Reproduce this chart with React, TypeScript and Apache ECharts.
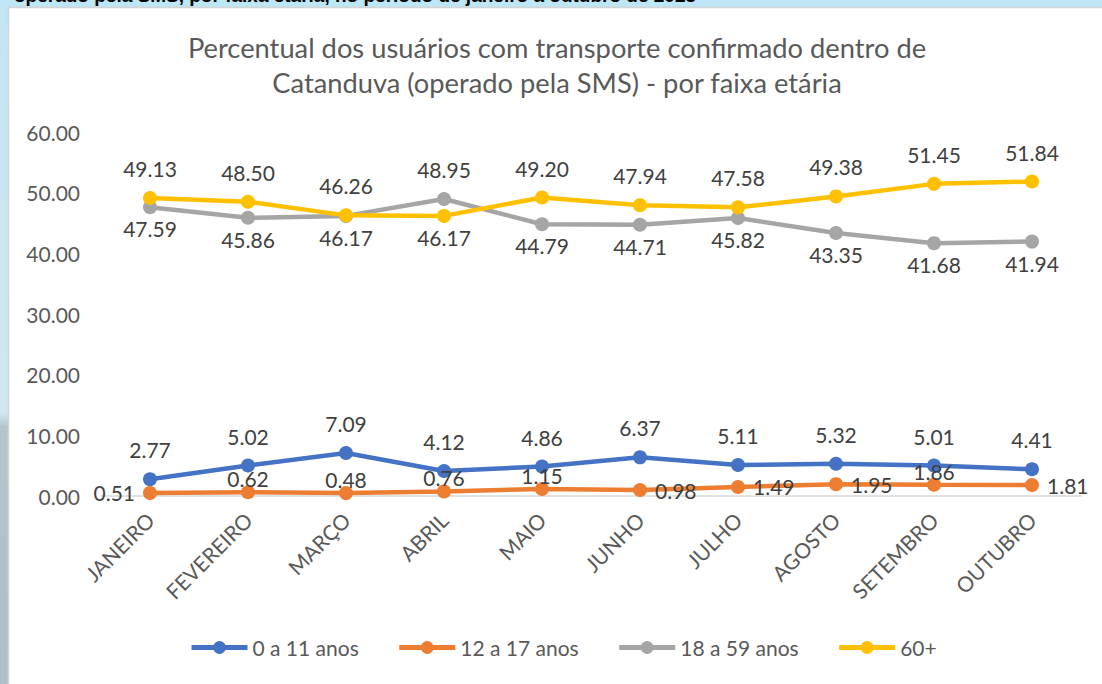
import React, { useEffect, useRef } from "react";
import * as echarts from "echarts";

const months = ["JANEIRO", "FEVEREIRO", "MARÇO", "ABRIL", "MAIO", "JUNHO", "JULHO", "AGOSTO", "SETEMBRO", "OUTUBRO"];
const seriesNames = ["0 a 11 anos", "12 a 17 anos", "18 a 59 anos", "60+"];
const age0to11 = [2.77, 5.02, 7.09, 4.12, 4.86, 6.37, 5.11, 5.32, 5.01, 4.41];
const age12to17 = [0.51, 0.62, 0.48, 0.76, 1.15, 0.98, 1.49, 1.95, 1.86, 1.81];
const age18to59 = [47.59, 45.86, 46.17, 48.95, 44.79, 44.71, 45.82, 43.35, 41.68, 41.94];
const age60plus = [49.13, 48.5, 46.26, 46.17, 49.2, 47.94, 47.58, 49.38, 51.45, 51.84];
const yTicks = { min: 0, max: 60, interval: 10 };

const titleLines = [
  "Percentual dos usuários com transporte confirmado dentro de",
  "Catanduva (operado pela SMS) - por faixa etária",
];
const headerText = "operado pela SMS, por faixa etária, no período de janeiro a outubro de 2023";

// label placement styles (not data)
const orangeLabelPos = ["left", "top", "top", "top", "top", "right", "right", "right", "top", "right"];
const grayLabelPos = ["bottom", "bottom", "bottom", "top", "bottom", "bottom", "bottom", "bottom", "bottom", "bottom"];
const yellowLabelPos = ["top", "top", "top", "bottom", "top", "top", "top", "top", "top", "top"];

const FONT = "Lato, 'Open Sans', sans-serif";
const LABEL_COLOR = "#404040";
const AXIS_COLOR = "#595959";

function distFor(pos: string, base: { top: number; bottom: number; side: number }) {
  if (pos === "top") return base.top;
  if (pos === "bottom") return base.bottom;
  return base.side;
}

function buildData(values: number[], positions: string[] | null, base: { top: number; bottom: number; side: number }, def: string) {
  return values.map((v, i) => {
    const pos = positions ? positions[i] : def;
    return {
      value: v,
      label: { position: pos, distance: distFor(pos, base) },
    };
  });
}

export default function App() {
  const ref = useRef<HTMLDivElement>(null);
  useEffect(() => {
    if (!ref.current) return;
    const chart = echarts.init(ref.current, undefined, { renderer: "svg" });
    const labelBase = {
      show: true,
      color: LABEL_COLOR,
      fontSize: 21,
      fontFamily: FONT,
      formatter: (p: any) => Number(p.value).toFixed(2),
    };
    const mkSeries = (name: string, color: string, data: any[]) => ({
      name,
      type: "line",
      data,
      symbol: "circle",
      symbolSize: 14,
      lineStyle: { color, width: 4.5 },
      itemStyle: { color },
      label: labelBase,
      emphasis: { disabled: true },
    });
    chart.setOption({
      animation: false,
      backgroundColor: "#ffffff",
      textStyle: { fontFamily: FONT },
      graphic: [
        { type: "rect", z: -10, shape: { x: 0, y: 0, width: 1102, height: 7 }, style: { fill: "#bde6f6" } },
        {
          type: "rect",
          z: -10,
          shape: { x: 0, y: 7, width: 8, height: 677 },
          style: {
            fill: new echarts.graphic.LinearGradient(0, 0, 0, 1, [
              { offset: 0, color: "#c3e6f4" },
              { offset: 0.6, color: "#cfe6ef" },
              { offset: 0.62, color: "#b3c6cb" },
              { offset: 1, color: "#adc1c4" },
            ]),
          },
        },
        { type: "line", z: -5, shape: { x1: 8, y1: 7.5, x2: 1102, y2: 7.5 }, style: { stroke: "#d4d4d4", lineWidth: 1.5 } },
        { type: "line", z: -5, shape: { x1: 8.5, y1: 7, x2: 8.5, y2: 684 }, style: { stroke: "#d4d4d4", lineWidth: 1.5 } },
        {
          type: "text",
          z: -8,
          x: 14,
          y: -14,
          style: { text: headerText, fill: "#000000", font: "bold 19px 'Liberation Sans', sans-serif" },
        },
        {
          type: "text",
          x: 557,
          y: 47,
          style: { text: titleLines[0], fill: AXIS_COLOR, font: `27.3px ${FONT}`, textAlign: "center", textVerticalAlign: "middle" },
        },
        {
          type: "text",
          x: 557,
          y: 82,
          style: { text: titleLines[1], fill: AXIS_COLOR, font: `27.3px ${FONT}`, textAlign: "center", textVerticalAlign: "middle" },
        },
      ],
      legend: {
        bottom: 21,
        left: 184,
        itemWidth: 56,
        itemHeight: 16,
        itemGap: 38,
        lineStyle: { width: 5 },
        textStyle: { color: AXIS_COLOR, fontSize: 21, fontFamily: FONT },
        data: seriesNames,
      },
      grid: { left: 101, right: 21, top: 132, bottom: 188, containLabel: false },
      xAxis: {
        type: "category",
        data: months,
        boundaryGap: true,
        axisLine: { lineStyle: { color: "#d9d9d9", width: 1.5 } },
        axisTick: { show: false },
        axisLabel: { rotate: 45, color: AXIS_COLOR, fontSize: 21, fontFamily: FONT, margin: 20, interval: 0 },
      },
      yAxis: {
        type: "value",
        min: yTicks.min,
        max: yTicks.max,
        interval: yTicks.interval,
        axisLine: { show: false },
        axisTick: { show: false },
        splitLine: { show: false },
        axisLabel: {
          color: AXIS_COLOR,
          fontSize: 21,
          fontFamily: FONT,
          margin: 21,
          formatter: (v: number) => v.toFixed(2),
        },
      },
      series: [
        mkSeries(seriesNames[0], "#4472C4", buildData(age0to11, null, { top: 12, bottom: 5, side: 8 }, "top")),
        mkSeries(seriesNames[1], "#ED7D31", buildData(age12to17, orangeLabelPos, { top: -4, bottom: 5, side: 8 }, "top")),
        mkSeries(seriesNames[2], "#A5A5A5", buildData(age18to59, grayLabelPos, { top: 12, bottom: 4, side: 6 }, "bottom")),
        mkSeries(seriesNames[3], "#FFC000", buildData(age60plus, yellowLabelPos, { top: 12, bottom: 4, side: 6 }, "top")),
      ],
    });
    return () => chart.dispose();
  }, []);
  return <div ref={ref} style={{ position: "fixed", left: 0, top: 0, width: 1102, height: 684 }} />;
}
